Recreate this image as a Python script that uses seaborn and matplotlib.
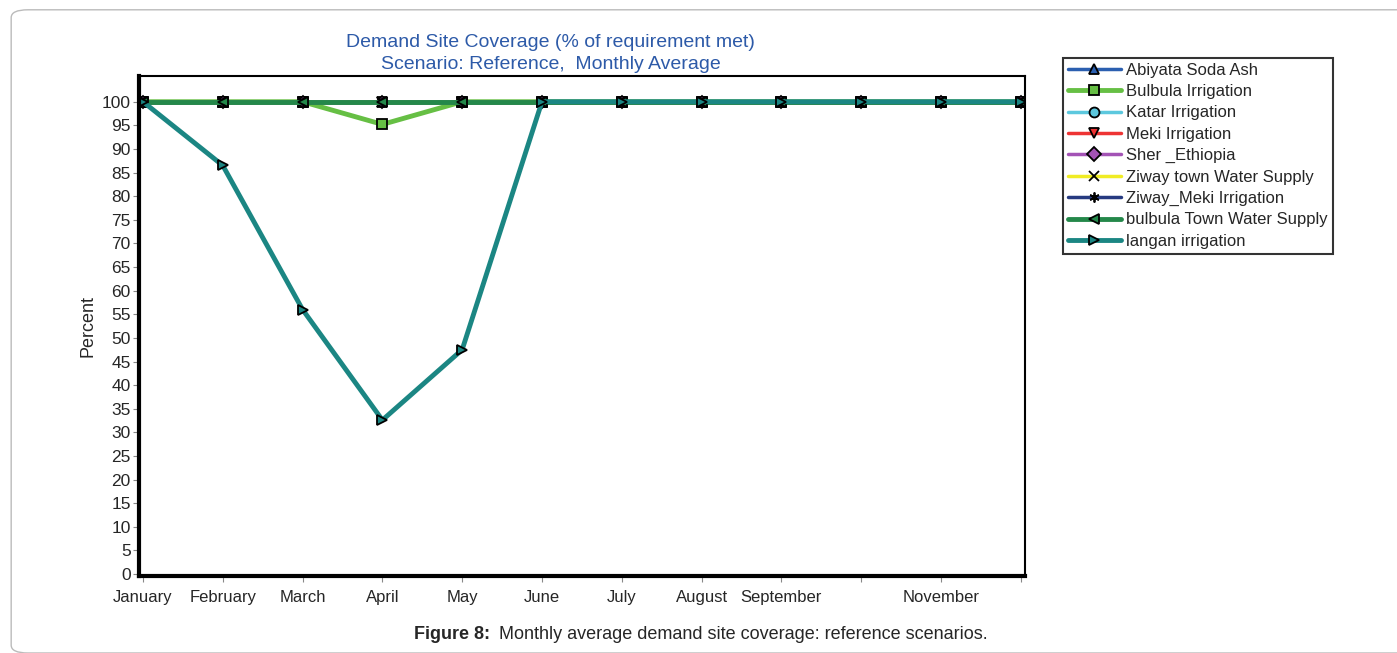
import matplotlib
matplotlib.use("Agg")
import matplotlib.pyplot as plt
from matplotlib.patches import FancyBboxPatch
import seaborn as sns
import pandas as pd

months = ["January", "February", "March", "April", "May", "June", "July",
          "August", "September", "October", "November", "December"]
month_labels = ["January", "February", "March", "April", "May", "June", "July",
                "August", "September", "", "November", ""]

abiyata = [100] * 12
bulbula_irr = [100, 100, 100, 95.2, 100, 100, 100, 100, 100, 100, 100, 100]
katar = [100] * 12
meki = [100] * 12
sher = [100] * 12
ziway_town = [100] * 12
ziway_meki = [100] * 12
bulbula_town = [100] * 12
langan = [100, 86.5, 56, 32.6, 47.5, 100, 100, 100, 100, 100, 100, 100]

series = [
    ("Abiyata Soda Ash", abiyata, "#2b5fb0", "^", 2.5),
    ("Bulbula Irrigation", bulbula_irr, "#66bf44", "s", 3.5),
    ("Katar Irrigation", katar, "#5cc8de", "o", 2.5),
    ("Meki Irrigation", meki, "#ee3434", "v", 2.5),
    ("Sher _Ethiopia", sher, "#a353b5", "D", 2.5),
    ("Ziway town Water Supply", ziway_town, "#f0ec24", "x", 2.5),
    ("Ziway_Meki Irrigation", ziway_meki, "#263a80", (6, 2, 0), 2.5),
    ("bulbula Town Water Supply", bulbula_town, "#24884a", "<", 3.5),
    ("langan irrigation", langan, "#1b8683", ">", 3.5),
]

rows = []
for name, vals, _, _, _ in series:
    for i, v in enumerate(vals):
        rows.append({"site": name, "month": i, "value": v})
df = pd.DataFrame(rows)

sns.set_style("white")
plt.rcParams["font.family"] = ["Liberation Sans", "DejaVu Sans"]

fig = plt.figure(figsize=(13.97, 6.53), dpi=100)
fig.patches.append(FancyBboxPatch((0.008, 0.0), 1.2, 0.985, boxstyle="round,pad=0,rounding_size=0.012",
                                  transform=fig.transFigure, fill=False, edgecolor="#bbbbbb", lw=1.0))
ax = fig.add_axes([0.0995, 0.118, 0.634, 0.766])

for name, vals, color, marker, lw in series:
    sub = df[df["site"] == name]
    sns.lineplot(data=sub, x="month", y="value", ax=ax, color=color, lw=lw,
                 marker=marker, markersize=6.5, markeredgecolor="black",
                 markerfacecolor=color if marker not in ("x",) else "black",
                 markeredgewidth=1.3, label=name)

ax.set_xlim(-0.05, 11.05)
ax.set_ylim(-0.4, 105.5)
ax.set_xticks(range(12))
ax.set_xticklabels(month_labels, fontsize=12)
ax.set_yticks(range(0, 101, 5))
ax.tick_params(axis="y", labelsize=12.5, length=4, color="#888888", left=True, pad=2)
ax.tick_params(axis="x", length=4, color="#888888", bottom=True, pad=6)
ax.set_xlabel("")
ax.set_ylabel("Percent", fontsize=13)
for side in ["left", "bottom"]:
    ax.spines[side].set_linewidth(3)
for side in ["top", "right"]:
    ax.spines[side].set_linewidth(1.5)
for s in ax.spines.values():
    s.set_color("black")

fig.text(0.394, 0.918, "Demand Site Coverage (% of requirement met)\nScenario: Reference,  Monthly Average",
         ha="center", va="center", color="#2d5aa8", fontsize=14, linespacing=1.45)

leg = ax.legend(loc="upper left", bbox_to_anchor=(1.043, 1.036), frameon=True, fancybox=False,
                edgecolor="black", fontsize=12, handlelength=3.2, handletextpad=0.3,
                labelspacing=0.38, borderpad=0.3, borderaxespad=0, markerscale=1.1)
leg.get_frame().set_linewidth(1.5)

fig.text(0.296, 0.028, "Figure 8:", ha="left", va="center", fontsize=13, fontweight="bold")
fig.text(0.357, 0.028, "Monthly average demand site coverage: reference scenarios.",
         ha="left", va="center", fontsize=13)

fig.savefig("out.png", dpi=100)
